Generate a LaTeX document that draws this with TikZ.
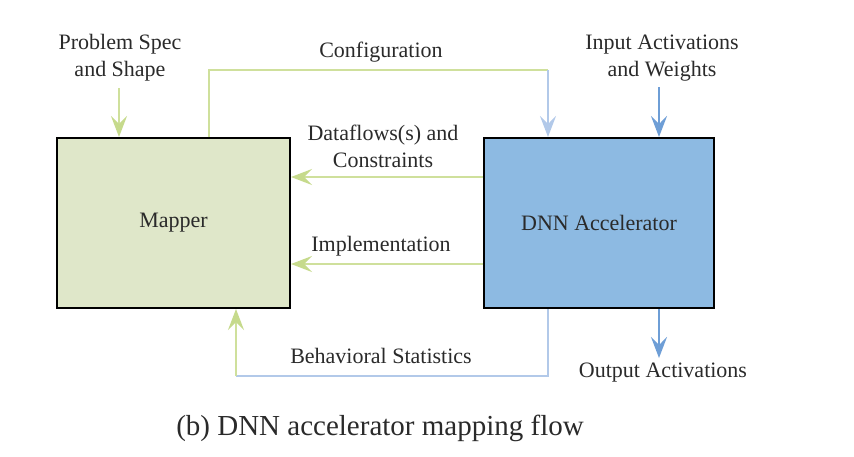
\documentclass[tikz,border=0pt]{standalone}
\usepackage{fontspec}
\setmainfont{Liberation Serif}
\usetikzlibrary{arrows.meta}
\definecolor{mapfill}{HTML}{DFE7C9}
\definecolor{dnnfill}{HTML}{8DBAE2}
\definecolor{gline}{HTML}{CFE09C}
\definecolor{ghead}{HTML}{C6DA8C}
\definecolor{lblue}{HTML}{B2C9E9}
\definecolor{mblue}{HTML}{6E9ED6}
\definecolor{txt}{HTML}{2A2A2A}
\tikzset{
  box/.style={draw=black, line width=2pt, minimum height=170pt, inner sep=0pt, text=txt, font=\fontsize{22}{27}\selectfont},
  lbl/.style={text=txt, align=center, inner sep=1pt, font=\fontsize{22}{27}\selectfont},
  arr/.style={line width=1.8pt, -{Stealth[length=21pt,width=16pt,inset=8pt]}},
  garr/.style={line width=1.8pt, draw=gline, -{Stealth[length=21pt,width=16pt,inset=8pt,color=ghead]}},
  con/.style={line width=1.8pt},
}
\begin{document}
\begin{tikzpicture}[x=1pt,y=-1pt]
\useasboundingbox (0,0) rectangle (854,456);
\node[box, fill=mapfill, minimum width=233pt] (mapper) at (173.5,223) {Mapper};
\node[box, fill=dnnfill, minimum width=230pt] (dnn) at (599,223) {DNN Accelerator};
% labels
\node[lbl, anchor=south] (ps) at (120,82) {Problem Spec\\and Shape};
\node[lbl, anchor=south] (iaw) at (662,82) {Input Activations\\and Weights};
\node[lbl, anchor=north] (oa) at (663,362) {Output Activations};
\node[lbl] (cfg) at (381,52) {Configuration};
\node[lbl] (dfc) at (383,146) {Dataflows(s) and\\Constraints};
\node[lbl] (imp) at (381,246) {Implementation};
\node[lbl] (bs) at (381,356) {Behavioral Statistics};
\node[text=txt, inner sep=0pt, font=\fontsize{29}{33}\selectfont] (cap) at (380,428) {(b) DNN accelerator mapping flow};
% coordinates
\coordinate (c1) at (209,70);
\coordinate (c2) at (548,70);
\coordinate (b1) at (548,376);
\coordinate (b2) at (236,376);
\coordinate (d1) at (0,177);
\coordinate (i1) at (0,264);
\coordinate (p0) at (119,88);
\coordinate (a0) at (659,87);
\coordinate (o1) at (659,358);
% arrows
\draw[garr] (p0) -- (mapper.north -| p0);
\draw[arr, draw=mblue] (a0) -- (dnn.north -| a0);
\draw[arr, draw=mblue] (dnn.south -| o1) -- (o1);
\draw[con, draw=gline] (mapper.north -| c1) -- (c1) -- (c2);
\draw[arr, draw=lblue] (c2) -- (dnn.north -| c2);
\draw[garr] (dnn.west |- d1) -- (mapper.east |- d1);
\draw[garr] (dnn.west |- i1) -- (mapper.east |- i1);
\draw[con, draw=lblue] (dnn.south -| b1) -- (b1) -- (b2);
\draw[garr] (b2) -- (mapper.south -| b2);
\end{tikzpicture}
\end{document}
